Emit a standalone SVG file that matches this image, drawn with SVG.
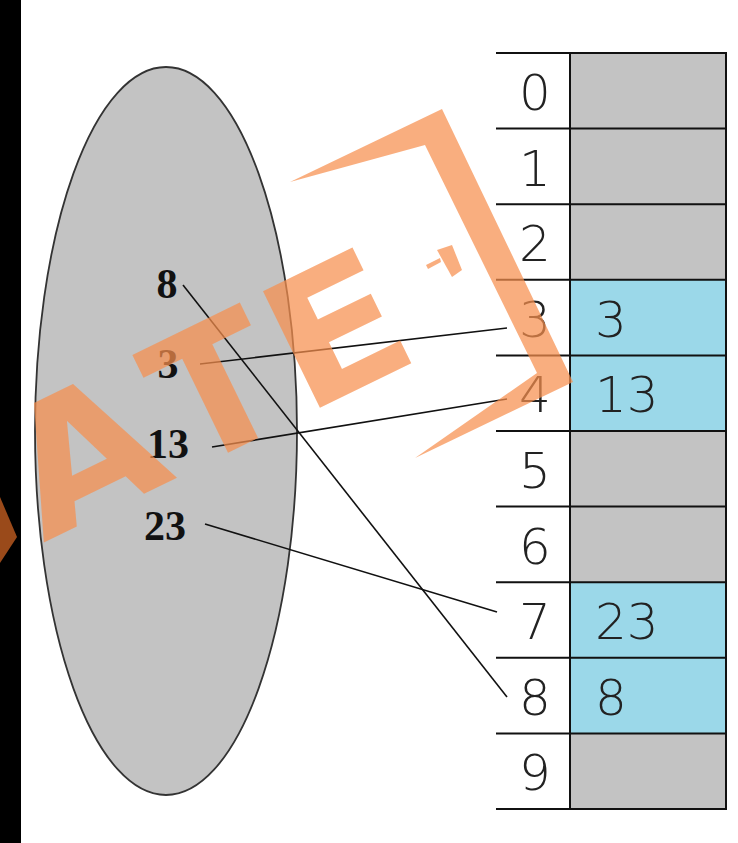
<svg xmlns="http://www.w3.org/2000/svg" width="738" height="843" viewBox="0 0 738 843">
  <style>
    .idx { font-family: "DejaVu Sans", "Liberation Sans", sans-serif; font-size: 50px; font-weight: 200; fill: #222; text-anchor: middle; }
    .val { font-family: "DejaVu Sans", "Liberation Sans", sans-serif; font-size: 50px; font-weight: 200; fill: #222; }
    .num { font-family: "Liberation Serif", "Times New Roman", serif; font-size: 42px; font-weight: bold; fill: #111; text-anchor: middle; }
    .gray { fill: #C3C3C3; }
    .blue { fill: #9BD8E9; }
    .grid { stroke: #111; stroke-width: 2; fill: none; }
    .conn { stroke: #111; stroke-width: 1.6; fill: none; }
    .wm { fill: rgb(247,143,78); fill-opacity: 0.72; }
    .wmt { font-family: "DejaVu Sans", "Liberation Sans", sans-serif; font-weight: bold; font-size: 178px; }
  </style>
  <rect x="0" y="0" width="738" height="843" fill="#fff"/>
  <rect x="0" y="0" width="21" height="843" fill="#000"/>
  <polygon points="0,497 17,537 0,563" fill="#9A4A1A"/>

  <g id="key-set">
    <ellipse cx="166" cy="431" rx="131" ry="364" fill="#C3C3C3" stroke="#333" stroke-width="1.8"/>
  </g>
  <g id="key-8"><text class="num" x="167" y="298">8</text></g>
  <g id="key-3"><text class="num" x="168" y="378">3</text></g>
  <g id="key-13"><text class="num" x="168" y="458">13</text></g>
  <g id="key-23"><text class="num" x="165" y="540">23</text></g>

  <g id="table">
    <g id="row-0"><rect class="gray" x="570" y="53" width="156" height="75.6"/><text class="idx" x="535" y="110">0</text></g>
    <g id="row-1"><rect class="gray" x="570" y="128.6" width="156" height="75.6"/><text class="idx" x="535" y="185.6">1</text></g>
    <g id="row-2"><rect class="gray" x="570" y="204.2" width="156" height="75.6"/><text class="idx" x="535" y="261.2">2</text></g>
    <g id="row-3"><rect class="blue" x="570" y="279.8" width="156" height="75.6"/><text class="idx" x="535" y="336.8">3</text><text class="val" x="595" y="336.8">3</text></g>
    <g id="row-4"><rect class="blue" x="570" y="355.4" width="156" height="75.6"/><text class="idx" x="535" y="412.4">4</text><text class="val" x="595" y="412.4">13</text></g>
    <g id="row-5"><rect class="gray" x="570" y="431" width="156" height="75.6"/><text class="idx" x="535" y="488">5</text></g>
    <g id="row-6"><rect class="gray" x="570" y="506.6" width="156" height="75.6"/><text class="idx" x="535" y="563.6">6</text></g>
    <g id="row-7"><rect class="blue" x="570" y="582.2" width="156" height="75.6"/><text class="idx" x="535" y="639.2">7</text><text class="val" x="595" y="639.2">23</text></g>
    <g id="row-8"><rect class="blue" x="570" y="657.8" width="156" height="75.6"/><text class="idx" x="535" y="714.8">8</text><text class="val" x="595" y="714.8">8</text></g>
    <g id="row-9"><rect class="gray" x="570" y="733.4" width="156" height="75.6"/><text class="idx" x="535" y="790.4">9</text></g>
    <path class="grid" d="M496 53H727M496 128.6H727M496 204.2H727M496 279.8H727M496 355.4H727M496 431H727M496 506.6H727M496 582.2H727M496 657.8H727M496 733.4H727M496 809H727M570 53V809M726 53V809"/>
  </g>

  <g id="connectors">
    <line class="conn" x1="183" y1="285" x2="507" y2="697"/>
    <line class="conn" x1="200" y1="364" x2="507" y2="328"/>
    <line class="conn" x1="212" y1="447" x2="507" y2="399"/>
    <line class="conn" x1="205" y1="524" x2="497" y2="612"/>
  </g>

  <g id="watermark" class="wm">
    <g transform="translate(43,543) rotate(-26)">
      <text class="wmt" x="0" y="0" textLength="150" lengthAdjust="spacingAndGlyphs">A</text>
      <text class="wmt" x="162" y="0">T</text>
      <text class="wmt" x="290" y="0" textLength="134" lengthAdjust="spacingAndGlyphs">E</text>
    </g>
    <polygon points="290,182 442,109 573,382 415,458 537,373 425,145"/>
    <polygon points="437,250 452,245 462,270 452,277"/>
    <polygon points="426,265 440,258 441,262 428,269"/>
  </g>
</svg>
